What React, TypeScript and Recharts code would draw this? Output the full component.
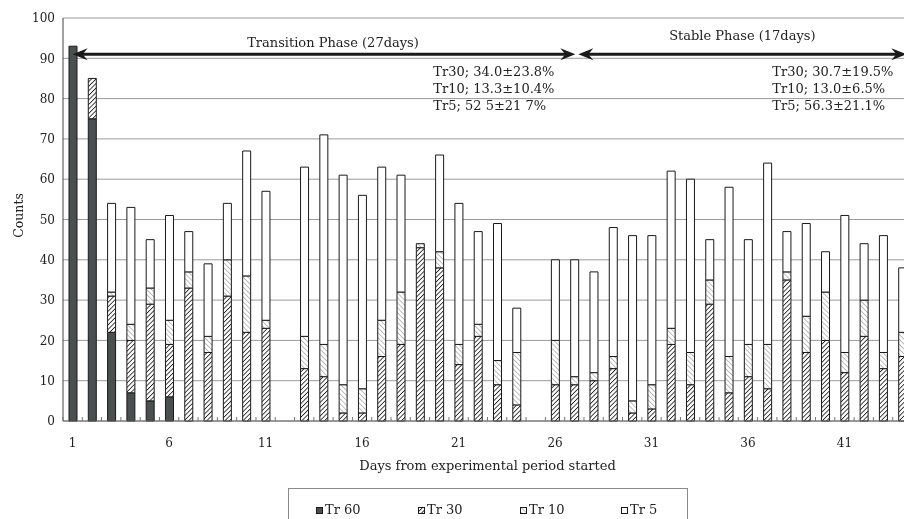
import { Bar, BarChart, CartesianGrid, ReferenceLine, XAxis, YAxis } from "recharts";

// days 12 and 25 have no counts
const days = [
  1, 2, 3, 4, 5, 6, 7, 8, 9, 10, 11, 12, 13, 14, 15, 16, 17, 18, 19, 20, 21, 22,
  23, 24, 25, 26, 27, 28, 29, 30, 31, 32, 33, 34, 35, 36, 37, 38, 39, 40, 41, 42, 43, 44,
];
const tr60 = [
  93, 75, 22, 7, 5, 6, 0, 0, 0, 0, 0, 0, 0, 0, 0, 0, 0, 0, 0, 0, 0, 0,
  0, 0, 0, 0, 0, 0, 0, 0, 0, 0, 0, 0, 0, 0, 0, 0, 0, 0, 0, 0, 0, 0,
];
const tr30 = [
  0, 10, 9, 13, 24, 13, 33, 17, 31, 22, 23, 0, 13, 11, 2, 2, 16, 19, 43, 38, 14, 21,
  9, 4, 0, 9, 9, 10, 13, 2, 3, 19, 9, 29, 7, 11, 8, 35, 17, 20, 12, 21, 13, 16,
];
const tr10 = [
  0, 0, 1, 4, 4, 6, 4, 4, 9, 14, 2, 0, 8, 8, 7, 6, 9, 13, 1, 4, 5, 3,
  6, 13, 0, 11, 2, 2, 3, 3, 6, 4, 8, 6, 9, 8, 11, 2, 9, 12, 5, 9, 4, 6,
];
const tr5 = [
  0, 0, 22, 29, 12, 26, 10, 18, 14, 31, 32, 0, 42, 52, 52, 48, 38, 29, 0, 24, 35, 23,
  34, 11, 0, 20, 29, 25, 32, 41, 37, 39, 43, 10, 42, 26, 45, 10, 23, 10, 34, 14, 29, 16,
];
const yTicks = [0, 10, 20, 30, 40, 50, 60, 70, 80, 90, 100];

const transitionStats = ["Tr30; 34.0±23.8%", "Tr10; 13.3±10.4%", "Tr5; 52 5±21 7%"];
const stableStats = ["Tr30; 30.7±19.5%", "Tr10; 13.0±6.5%", "Tr5; 56.3±21.1%"];

const series = [
  { key: "tr60", name: "Tr 60", fill: "#4b4f4f" },
  { key: "tr30", name: "Tr 30", fill: "url(#hatch30)" },
  { key: "tr10", name: "Tr 10", fill: "url(#hatch10)" },
  { key: "tr5", name: "Tr 5", fill: "#ffffff" },
];

const data = days.map((day, i) => ({
  day,
  tr60: tr60[i],
  tr30: tr30[i],
  tr10: tr10[i],
  tr5: tr5[i],
}));

const FONT = "'DejaVu Serif', serif";
const W = 920;
const H = 511;
const MARGIN = { top: 10, right: 16, left: 0, bottom: 0 };
const Y_W = 55;
const STEP = (W - Y_W - MARGIN.right) / days.length;

function DayTick(props: any) {
  const { x, y, payload, index } = props;
  const day = payload.value;
  return (
    <g>
      <line x1={x - STEP / 2} x2={x - STEP / 2} y1={y} y2={y - 4} stroke="#777" />
      {index === days.length - 1 && (
        <line x1={x + STEP / 2} x2={x + STEP / 2} y1={y} y2={y - 4} stroke="#777" />
      )}
      {(day - 1) % 5 === 0 && (
        <text x={x} y={y + 26} textAnchor="middle" fontFamily={FONT} fontSize={12} fill="#222">
          {day}
        </text>
      )}
    </g>
  );
}

function arrowHead(tx: number, y: number, dir: number) {
  const p = [
    [tx, y],
    [tx - dir * 15, y - 6],
    [tx - dir * 10, y],
    [tx - dir * 15, y + 6],
  ];
  return <polygon points={p.map((q) => q.join(",")).join(" ")} fill="#1a1a1a" />;
}

function PhaseArrow(props: any) {
  const { x1, y1, x2, startPad, endPad, title, titleX, titleDy, stats, statsX } = props;
  const a = x1 + startPad;
  const b = x2 + endPad;
  return (
    <g>
      <line x1={a + 6} x2={b - 6} y1={y1} y2={y1} stroke="#1a1a1a" strokeWidth={3} />
      {arrowHead(a, y1, -1)}
      {arrowHead(b, y1, 1)}
      <text x={titleX(a, b)} y={y1 + titleDy} textAnchor="middle" fontFamily={FONT} fontSize={13} fill="#222">
        {title}
      </text>
      {stats.map((s: string, i: number) => (
        <text key={s} x={statsX(a, b)} y={y1 + 22 + i * 17} fontFamily={FONT} fontSize={13} fill="#222">
          {s}
        </text>
      ))}
    </g>
  );
}

export default function App() {
  return (
    <div style={{ position: "fixed", left: 8, top: 8, width: 896, height: H, overflow: "hidden" }}>
      <svg width={0} height={0} style={{ position: "absolute" }}>
        <defs>
          <pattern id="hatch30" width={3.2} height={3.2} patternUnits="userSpaceOnUse" patternTransform="rotate(45)">
            <rect width={3.2} height={3.2} fill="#fff" />
            <line x1={0} y1={0} x2={0} y2={3.2} stroke="#222" strokeWidth={1.7} />
          </pattern>
          <pattern id="hatch10" width={3.5} height={3.5} patternUnits="userSpaceOnUse" patternTransform="rotate(-45)">
            <rect width={3.5} height={3.5} fill="#fff" />
            <line x1={0} y1={0} x2={0} y2={3.5} stroke="#8a8a8a" strokeWidth={1.1} />
          </pattern>
        </defs>
      </svg>
      <BarChart width={W} height={H} data={data} margin={MARGIN} barSize={8}>
        <CartesianGrid vertical={false} stroke="#9a9a9a" />
        <XAxis
          dataKey="day"
          interval={0}
          height={H - MARGIN.top - 403}
          tickLine={false}
          tickSize={0}
          tickMargin={0}
          stroke="#666"
          tick={<DayTick />}
          label={{
            content: ({ viewBox }: any) => (
              <text
                x={viewBox.x + viewBox.width / 2}
                y={viewBox.y + 49}
                textAnchor="middle"
                fontFamily={FONT}
                fontSize={13}
                fill="#222"
              >
                Days from experimental period started
              </text>
            ),
          }}
        />
        <YAxis
          width={Y_W}
          domain={[0, 100]}
          ticks={yTicks}
          interval={0}
          tickLine={false}
          tickSize={0}
          tickMargin={8}
          stroke="#444"
          tick={{ fontFamily: FONT, fontSize: 12, fill: "#222" }}
          label={{
            content: ({ viewBox }: any) => {
              const cx = 10;
              const cy = viewBox.y + viewBox.height / 2 - 4;
              return (
                <text
                  x={cx}
                  y={cy}
                  transform={`rotate(-90 ${cx} ${cy})`}
                  textAnchor="middle"
                  dominantBaseline="central"
                  fontFamily={FONT}
                  fontSize={12.5}
                  fill="#222"
                >
                  Counts
                </text>
              );
            },
          }}
        />
        {series.map((s) => (
          <Bar
            key={s.key}
            dataKey={s.key}
            name={s.name}
            stackId="a"
            fill={s.fill}
            stroke="#1a1a1a"
            strokeWidth={1}
            isAnimationActive={false}
          />
        ))}
        <ReferenceLine
          segment={[{ x: 1, y: 91 }, { x: 27, y: 91 }]}
          shape={(p: any) => (
            <PhaseArrow
              {...p}
              startPad={0}
              endPad={1}
              title="Transition Phase (27days)"
              titleX={(a: number, b: number) => (a + b) / 2 + 9}
              titleDy={-7}
              stats={transitionStats}
              statsX={(_a: number, b: number) => b - 142}
            />
          )}
        />
        <ReferenceLine
          segment={[{ x: 27, y: 91 }, { x: 44, y: 91 }]}
          shape={(p: any) => (
            <PhaseArrow
              {...p}
              startPad={4}
              endPad={4}
              title="Stable Phase (17days)"
              titleX={(a: number) => a + 164}
              titleDy={-14}
              stats={stableStats}
              statsX={(a: number) => a + 194}
            />
          )}
        />
      </BarChart>
      <div
        style={{
          position: "absolute",
          left: 280,
          top: 480,
          width: 400,
          height: 50,
          border: "1px solid #8a8a8a",
          boxSizing: "border-box",
          fontFamily: FONT,
          fontSize: 13,
          color: "#222",
        }}
      >
        {series.map((s, i) => (
          <div
            key={s.key}
            style={{
              position: "absolute",
              left: [27, 129, 231, 332][i],
              top: 13,
              display: "flex",
              alignItems: "center",
              gap: 2,
              lineHeight: "16px",
            }}
          >
            <svg width={7} height={7}>
              <rect x={0.5} y={0.5} width={6} height={6} fill={s.fill} stroke="#1a1a1a" />
            </svg>
            <span>{s.name}</span>
          </div>
        ))}
      </div>
    </div>
  );
}
